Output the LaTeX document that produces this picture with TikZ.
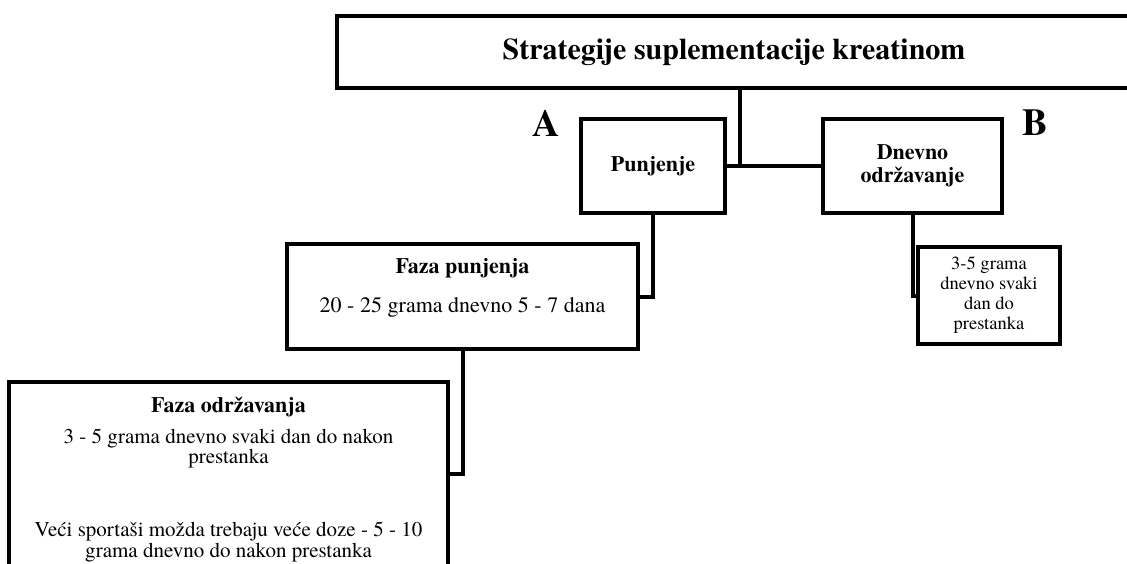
\documentclass[tikz,border=0pt]{standalone}
\usepackage{fontspec}
\setmainfont{texgyretermes}[Extension=.otf,UprightFont=*-regular,BoldFont=*-bold,ItalicFont=*-italic,BoldItalicFont=*-bolditalic]
\begin{document}
\begin{tikzpicture}[x=1pt,y=-1pt,
  kutija/.style={draw,line width=4pt,inner sep=0pt,align=center},
  veza/.style={line width=4pt},
  redak/.style={inner sep=0pt,anchor=base,font=\fontsize{21}{21}\selectfont},
  slovo/.style={inner sep=0pt,anchor=base,font=\fontsize{38}{38}\selectfont\bfseries}]
\clip (0,0) rectangle (1127,563);
\node[kutija,minimum width=794pt,minimum height=72pt,font=\fontsize{30}{34}\selectfont\bfseries] (naslov) at (734,52) {Strategije suplementacije kreatinom};
\node[kutija,minimum width=144pt,minimum height=94pt,font=\fontsize{22}{23}\selectfont\bfseries] (punjenje) at (653,166) {Punjenje};
\node[kutija,minimum width=179pt,minimum height=94pt,font=\fontsize{22}{23}\selectfont\bfseries] (dnevno) at (912.5,166) {Dnevno\\održavanje};
\node[kutija,minimum width=142pt,minimum height=97pt,font=\fontsize{18.5}{20}\selectfont] (doza) at (989,295.5) {3-5 grama\\dnevno svaki\\dan do\\prestanka};
\node[kutija,minimum width=351pt,minimum height=105pt] (fazapunj) at (462.5,296.5) {};
\node[kutija,minimum width=439pt,minimum height=184pt] (fazaodrz) at (228.5,474) {};
\node[slovo] (a) at (546,136) {A};
\node[slovo] (b) at (1035,135) {B};
\node[redak,font=\fontsize{22}{22}\selectfont\bfseries] (punjnaslov) at (462.5,273) {Faza punjenja};
\node[redak,font=\fontsize{22}{22}\selectfont] (punjdoza) at (462.5,312) {20 - 25 grama dnevno 5 - 7 dana};
\node[redak,font=\fontsize{22}{22}\selectfont\bfseries] (odrznaslov) at (228.5,412) {Faza održavanja};
\node[redak] (odrzdoza) at (228.5,443) {3 - 5 grama dnevno svaki dan do nakon};
\node[redak] (odrzdozb) at (228.5,463) {prestanka};
\node[redak] (vecia) at (228.5,536) {Veći sportaši možda trebaju veće doze - 5 - 10};
\node[redak] (vecib) at (228.5,557) {grama dnevno do nakon prestanka};
\coordinate (grana) at (740,166);
\draw[veza] (naslov.south -| grana) -- (grana);
\draw[veza] (punjenje.east) -- (dnevno.west);
\draw[veza] (punjenje.south) |- (fazapunj.east);
\draw[veza] (dnevno.south) |- (doza.west);
\draw[veza] (fazapunj.south) |- (fazaodrz.east);
\end{tikzpicture}
\end{document}
